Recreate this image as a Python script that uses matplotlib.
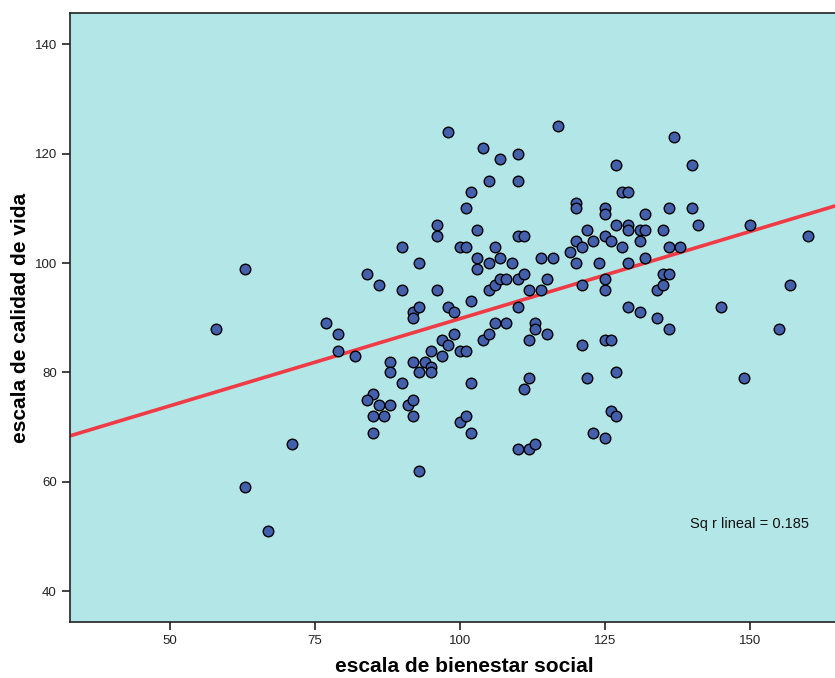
import numpy as np
import matplotlib
matplotlib.use("Agg")
import matplotlib.pyplot as plt

plt.rcParams['font.family'] = ['Liberation Sans', 'DejaVu Sans']

# escala de bienestar social
bienestar = [58, 63, 63, 67, 71, 77, 79, 79, 82, 84, 86, 90, 90,
             88, 88, 90, 85, 84, 86, 88, 91, 85, 87, 85,
             92, 92, 93, 93, 92, 94, 95, 95, 93, 92, 92, 93,
             95, 96, 96, 96, 97, 97, 98, 98, 98, 99, 99,
             100, 100, 100, 101, 101, 101, 101, 102, 102, 102, 102,
             103, 103, 103, 104, 104, 105, 105, 105, 105,
             106, 106, 106, 107, 107, 107, 108, 108, 109,
             110, 110, 110, 110, 110, 110, 111, 111, 111,
             112, 112, 112, 112, 113, 113, 113, 114, 114, 115, 115, 116, 117, 119,
             120, 120, 120, 120, 121, 121, 121, 122, 122, 123, 123, 124,
             125, 125, 125, 125, 125, 125, 125, 126, 126, 126,
             127, 127, 127, 127, 128, 128, 129, 129, 129, 129, 129,
             131, 131, 131, 132, 132, 132, 134, 134, 135, 135, 135,
             136, 136, 136, 136, 137, 138, 140, 140, 141, 145, 149, 150, 155, 157, 160]

# escala de calidad de vida
calidad = [88, 99, 59, 51, 67, 89, 87, 84, 83, 98, 96, 95, 103,
           82, 80, 78, 76, 75, 74, 74, 74, 72, 72, 69,
           91, 90, 92, 100, 82, 82, 81, 80, 80, 75, 72, 62,
           84, 107, 105, 95, 86, 83, 85, 92, 124, 87, 91,
           103, 84, 71, 103, 110, 84, 72, 113, 93, 78, 69,
           106, 101, 99, 121, 86, 115, 100, 95, 87,
           103, 96, 89, 119, 101, 97, 97, 89, 100,
           120, 115, 105, 97, 92, 66, 105, 98, 77,
           95, 86, 79, 66, 89, 88, 67, 101, 95, 97, 87, 101, 125, 102,
           111, 110, 104, 100, 103, 96, 85, 106, 79, 104, 69, 100,
           110, 109, 105, 97, 95, 86, 68, 104, 86, 73,
           118, 107, 80, 72, 113, 103, 113, 107, 106, 100, 92,
           106, 104, 91, 109, 106, 101, 95, 90, 106, 98, 96,
           110, 103, 98, 88, 123, 103, 118, 110, 107, 92, 79, 107, 88, 96, 105]

x = np.array(bienestar)
y = np.array(calidad)
pend, corte = np.polyfit(x, y, 1)
r2 = 0.185

fig = plt.figure(figsize=(8.35, 6.78), dpi=100)
ax = fig.add_axes([70 / 835, 56 / 678, 1 - 70 / 835, 609 / 678])
ax.set_facecolor('#b3e6e6')

xlim = (32.8, 164.7)
ax.set_xlim(xlim)
ax.set_ylim(34.4, 145.7)

xl = np.array(xlim)
ax.plot(xl, corte + pend * xl, color='#f03a45', lw=2.6, zorder=2)
ax.scatter(x, y, s=58, facecolor='#4360ad', edgecolor='black', linewidths=1.0, zorder=3)

ax.text(160.3, 52.3, 'Sq r lineal = %.3f' % r2, ha='right', va='center', fontsize=10.5, color='#111111')

ax.set_xticks([50, 75, 100, 125, 150])
ax.set_yticks([40, 60, 80, 100, 120, 140])
ax.tick_params(direction='out', length=6, width=1.2, labelsize=9.5, colors='#222222')
ax.spines['right'].set_visible(False)
for s in ['left', 'bottom', 'top']:
    ax.spines[s].set_linewidth(1.2)
    ax.spines[s].set_color('#222222')

ax.set_xlabel('escala de bienestar social', fontsize=15, fontweight='bold', labelpad=6)
ax.xaxis.set_label_coords(0.515, -0.058)
ax.set_ylabel('escala de calidad de vida', fontsize=15, fontweight='bold', labelpad=3)

fig.savefig('out.png', dpi=100)
